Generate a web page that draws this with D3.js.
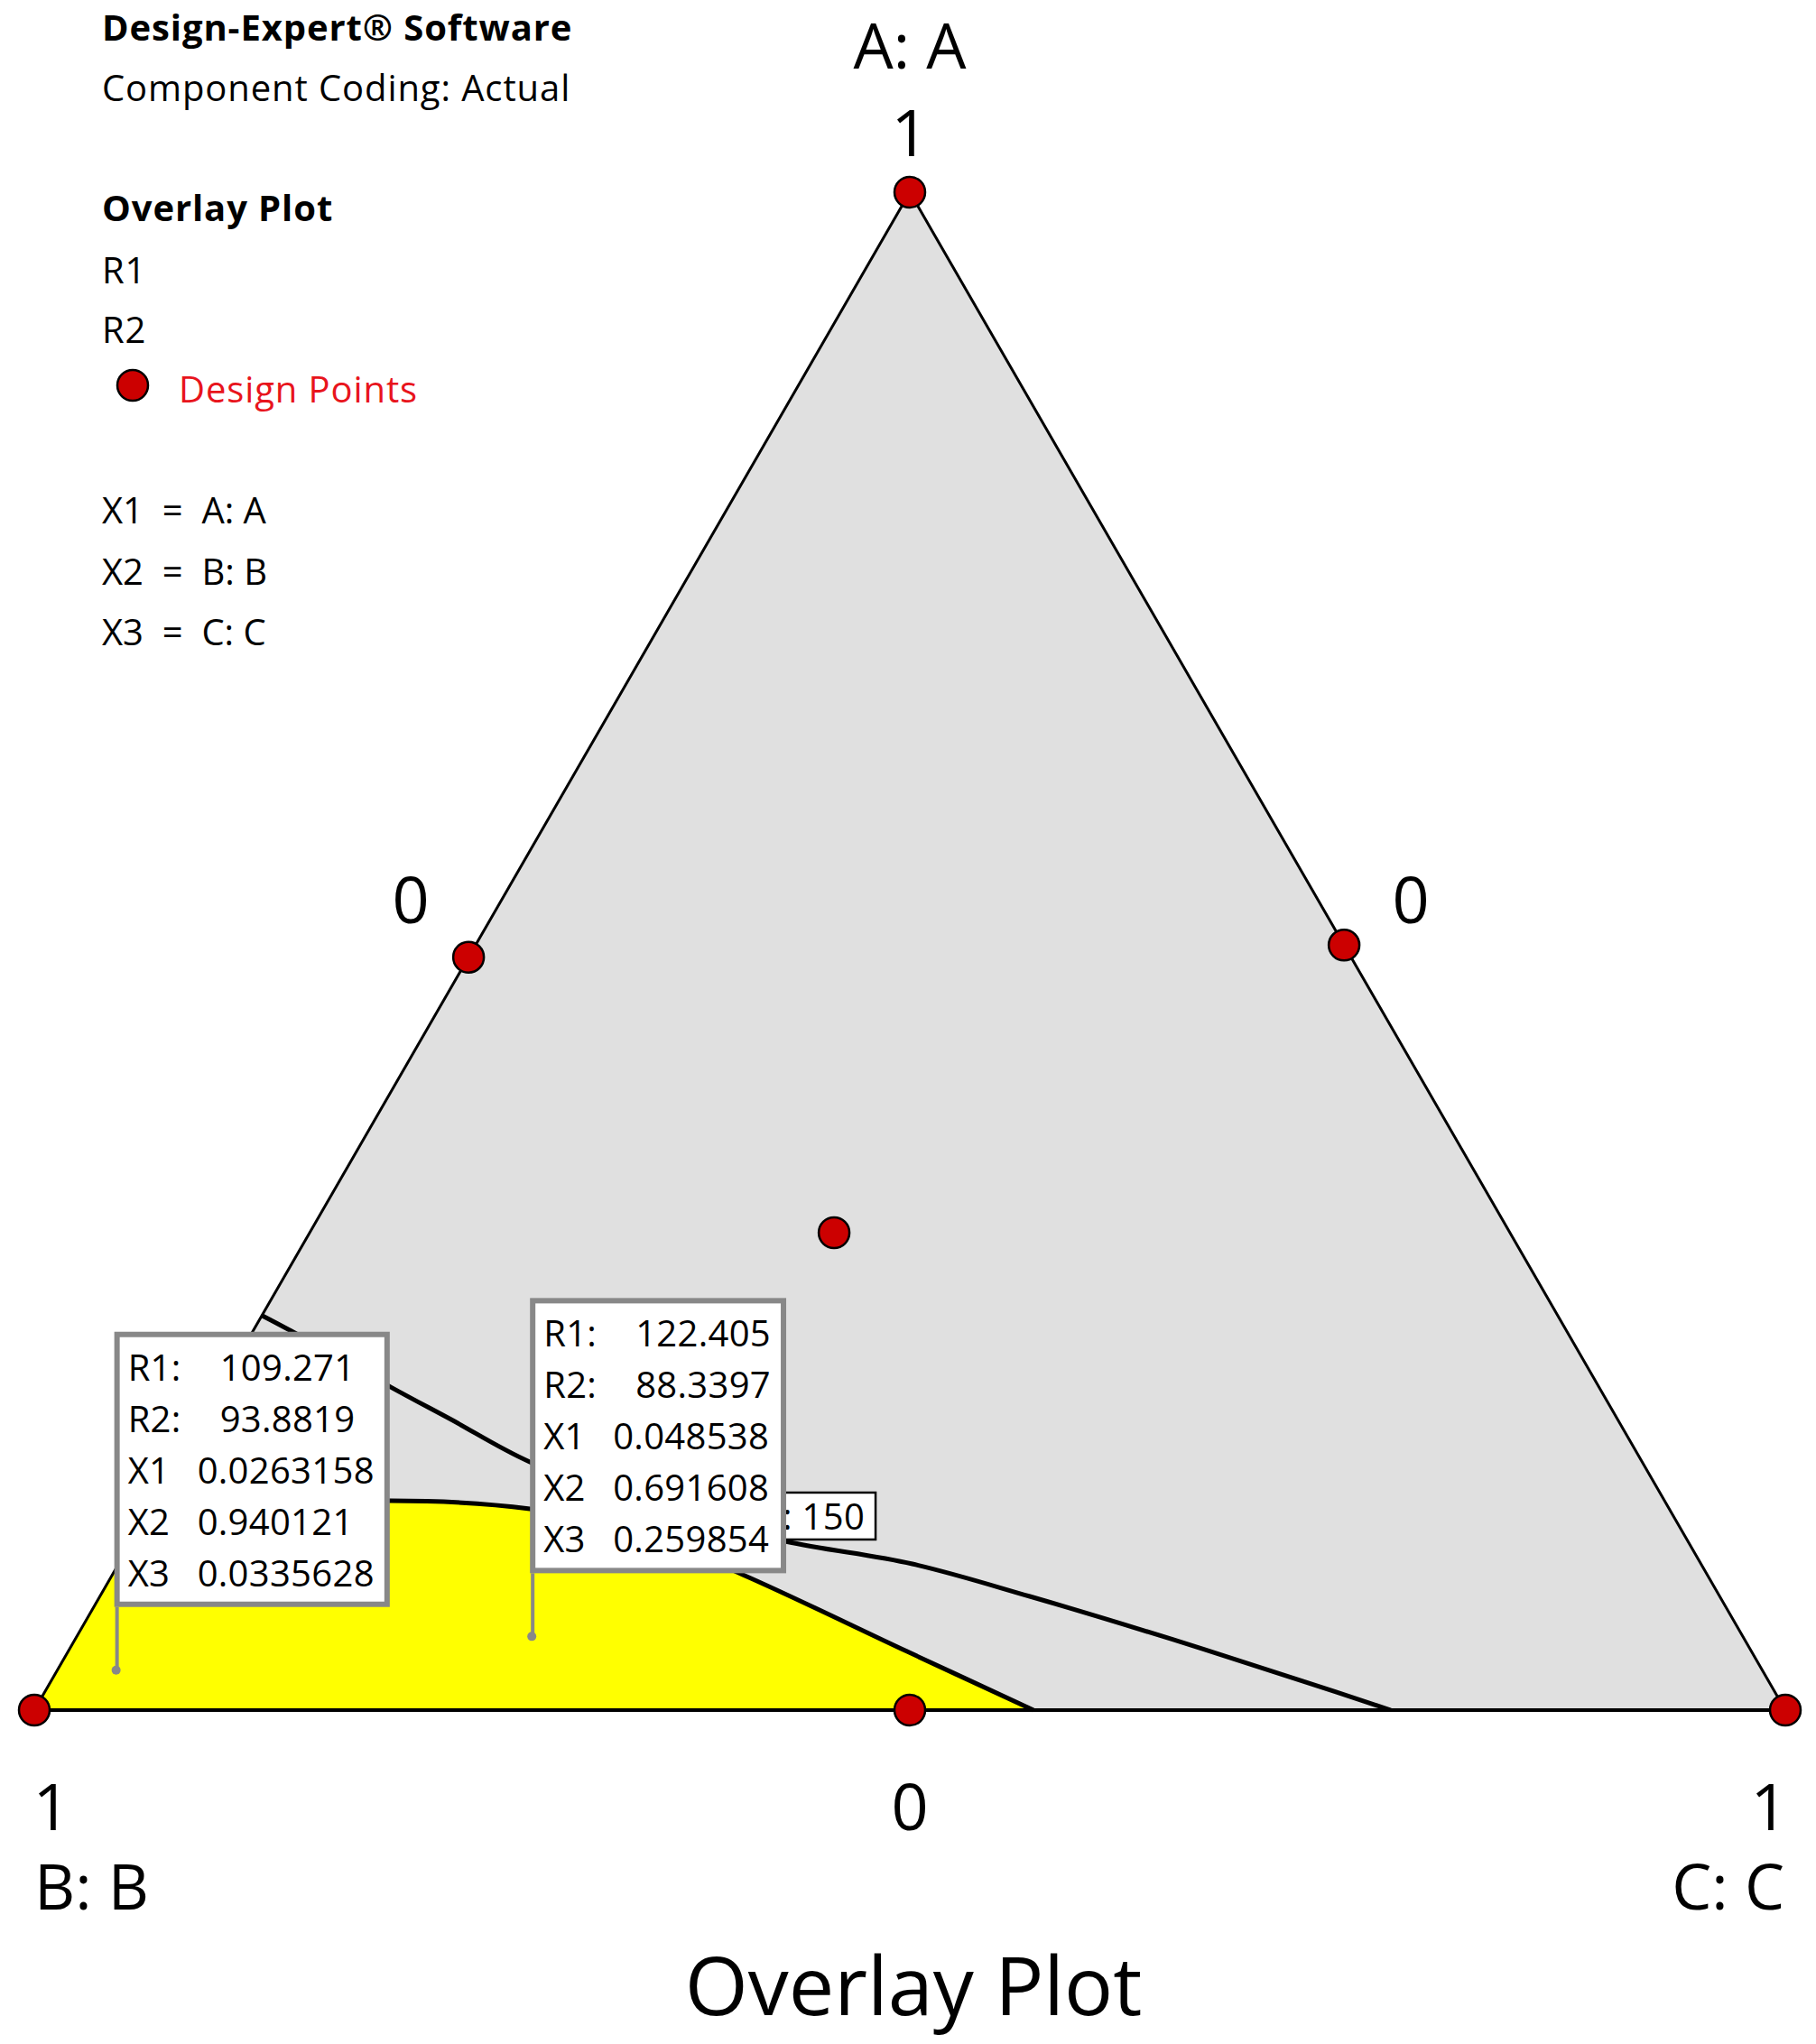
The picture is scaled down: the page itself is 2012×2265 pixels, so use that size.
<!DOCTYPE html>
<html>
<head>
<meta charset="utf-8">
<script src="https://cdn.jsdelivr.net/npm/d3@7"></script>
<style>
  body { margin: 0; background: #fff; }
  svg { display: block; }
  text { font-family: "Open Sans", "Noto Sans", sans-serif; fill: #000; }
</style>
</head>
<body>
<svg id="chart" width="2012" height="2265"></svg>
<script>
// Design points, mixture fractions of A, B, C
const designA = [1, 0, 0, 0.496, 0.504, 0, 0.3145];
const designB = [0, 1, 0, 0.504, 0, 0.5, 0.386];
const designC = [0, 0, 1, 0, 0.496, 0.5, 0.2995];

// Contour line (R1 = 150), as [A, B, C]
const r1Contour = [
  [0.260, 0.740, 0.000], [0.2497, 0.7283, 0.0220], [0.2128, 0.6900, 0.0972],
  [0.1914, 0.6662, 0.1424], [0.1635, 0.6353, 0.2012], [0.1326, 0.5770, 0.2904],
  [0.1112, 0.5155, 0.3733], [0.0963, 0.4504, 0.4533], [0.0749, 0.3940, 0.5311],
  [0.0464, 0.3263, 0.6273], [0.0190, 0.2658, 0.7152], [0.000, 0.2253, 0.7747]
];
// only the tail of the label shows, the rest sits under a flag
const r1ContourLabel = ": 150";

// Boundary of the yellow (acceptable) region, as [A, B, C]
const sweetSpotEdge = [
  [0.107, 0.893, 0.000], [0.1326, 0.8090, 0.0584], [0.1379, 0.7275, 0.1346],
  [0.1326, 0.6507, 0.2167], [0.1189, 0.5994, 0.2817], [0.0892, 0.5508, 0.3600],
  [0.0386, 0.4822, 0.4792], [0.000, 0.4294, 0.5706]
];

// Flags: R1, R2, X1, X2, X3
const flagNames = ["R1:", "R2:", "X1", "X2", "X3"];
const flag1 = ["109.271", "93.8819", "0.0263158", "0.940121", "0.0335628"];
const flag2 = ["122.405", "88.3397", "0.048538", "0.691608", "0.259854"];

const legendLines = ["X1  =  A: A", "X2  =  B: B", "X3  =  C: C"];

const svg = d3.select("#chart");

// ternary projection through linear scales
const xScale = d3.scaleLinear().domain([0, 1]).range([38, 1978]);
const yScale = d3.scaleLinear().domain([0, 1]).range([1895, 213]);
const proj = ([a, b, c]) => {
  const t = a + b + c;
  return [xScale((c + a / 2) / t), yScale(a / t)];
};

const vA = proj([1, 0, 0]), vB = proj([0, 1, 0]), vC = proj([0, 0, 1]);

const smooth = d3.line().curve(d3.curveCatmullRom.alpha(0.5));
const straight = d3.line();

// gray simplex
svg.append("path")
  .attr("d", straight([vA, vB, vC]) + "Z")
  .attr("fill", "#e0e0e0");

// yellow region: B vertex + boundary curve
const edgePts = sweetSpotEdge.map(proj);
svg.append("path")
  .attr("d", smooth(edgePts) + "L" + vB.join(",") + "Z")
  .attr("fill", "#ffff00");

svg.append("path")
  .attr("d", smooth(edgePts))
  .attr("fill", "none").attr("stroke", "#000").attr("stroke-width", 5);

const contourPts = r1Contour.map(proj);
svg.append("path")
  .attr("d", smooth(contourPts))
  .attr("fill", "none").attr("stroke", "#000").attr("stroke-width", 5);

// triangle edges
svg.append("path").attr("d", straight([vB, vA, vC]))
  .attr("fill", "none").attr("stroke", "#000").attr("stroke-width", 3);
svg.append("path").attr("d", straight([vB, vC]))
  .attr("fill", "none").attr("stroke", "#000").attr("stroke-width", 4);

// design points
svg.append("g").selectAll("circle")
  .data(designA.map((a, i) => [a, designB[i], designC[i]]))
  .join("circle")
  .attr("cx", d => proj(d)[0])
  .attr("cy", d => proj(d)[1])
  .attr("r", 17)
  .attr("fill", "#cc0000")
  .attr("stroke", "#000")
  .attr("stroke-width", 2.5);

// contour label box (left part is covered by the second flag)
const lab = proj(r1Contour[6]);
const labG = svg.append("g");
labG.append("rect")
  .attr("x", lab[0] - 70).attr("y", lab[1] - 54)
  .attr("width", 170).attr("height", 52)
  .attr("fill", "#fff").attr("stroke", "#000").attr("stroke-width", 2.5);
labG.append("text")
  .attr("x", lab[0] + 88).attr("y", lab[1] - 13)
  .attr("text-anchor", "end")
  .attr("font-size", 40)
  .attr("letter-spacing", 0.3)
  .text(r1ContourLabel);

// flags
function drawFlag(values) {
  const comp = [+values[2], +values[3], +values[4]];
  const [px, py] = proj(comp);
  const left = px - 2, top = py - 375, h = 305;
  const g = svg.append("g");
  g.append("line")
    .attr("x1", px + 1).attr("x2", px + 1)
    .attr("y1", py).attr("y2", top + h)
    .attr("stroke", "#888").attr("stroke-width", 4);
  g.append("circle").attr("cx", px).attr("cy", py).attr("r", 5).attr("fill", "#888");
  const rect = g.append("rect");
  const rows = [54, 111, 168, 225, 282];
  let maxRight = 0;
  flagNames.forEach((n, i) => {
    g.append("text").attr("x", left + 15).attr("y", top + rows[i])
      .attr("font-size", 40).attr("letter-spacing", 0.3).text(n);
    const t = g.append("text")
      .attr("x", left + (i < 2 ? 117 : 92)).attr("y", top + rows[i])
      .attr("font-size", 40).attr("letter-spacing", 0.3).text(values[i]);
    const bb = t.node().getBBox();
    maxRight = Math.max(maxRight, bb.x + bb.width);
  });
  const w = maxRight + 17 - left;
  rect.attr("x", left + 3).attr("y", top + 3)
    .attr("width", w - 6).attr("height", h - 6)
    .attr("fill", "#fff").attr("stroke", "#888").attr("stroke-width", 6);
}
drawFlag(flag1);
drawFlag(flag2);

// axis labels
const tick = (x, y, t, anchor = "middle", size = 72) =>
  svg.append("text").attr("x", x).attr("y", y)
    .attr("text-anchor", anchor).attr("font-size", size).text(t);

tick(vA[0], 76, "A: A", "middle", 70);
tick(vA[0], 173, "1");
tick(455, 1023, "0");
tick(1563, 1023, "0");
tick(57, 2028, "1");
tick((vB[0] + vC[0]) / 2, 2028, "0");
tick(1960, 2028, "1");
tick(38, 2116, "B: B", "start", 70);
tick(1977, 2116, "C: C", "end", 70);
tick(1012, 2233, "Overlay Plot", "middle", 90);

// legend block
const leg = svg.append("g").attr("font-size", 40).attr("letter-spacing", 0.9);
leg.append("text").attr("x", 113).attr("y", 45).attr("font-weight", "bold")
  .text("Design-Expert® Software");
leg.append("text").attr("x", 113).attr("y", 112).text("Component Coding: Actual");
leg.append("text").attr("x", 113).attr("y", 245).attr("font-weight", "bold")
  .text("Overlay Plot");
leg.append("text").attr("x", 113).attr("y", 314).text("R1");
leg.append("text").attr("x", 113).attr("y", 380).text("R2");
leg.append("circle").attr("cx", 147).attr("cy", 427).attr("r", 17)
  .attr("fill", "#cc0000").attr("stroke", "#000").attr("stroke-width", 2.5);
leg.append("text").attr("x", 198).attr("y", 446).style("fill", "#e8141c")
  .text("Design Points");
legendLines.forEach((t, i) => {
  leg.append("text").attr("x", 113).attr("y", 580 + i * 67.5)
    .attr("letter-spacing", 0).style("white-space", "pre").text(t);
});
</script>
</body>
</html>
